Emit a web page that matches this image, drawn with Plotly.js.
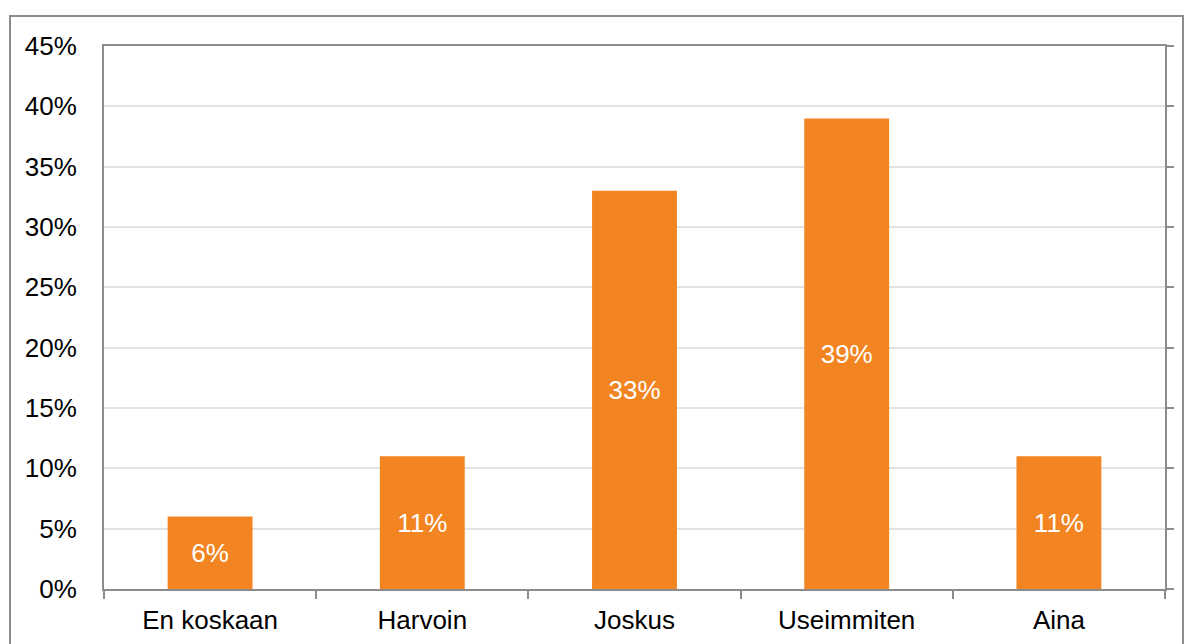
<!DOCTYPE html>
<html>
<head>
<meta charset="utf-8">
<script src="https://cdn.plot.ly/plotly-3.0.1.min.js"></script>
<style>
html,body{margin:0;padding:0;background:#fff;}
#chart{width:1184px;height:644px;}
</style>
</head>
<body>
<div id="chart"></div>
<script>
const categories = ["En koskaan", "Harvoin", "Joskus", "Useimmiten", "Aina"];
const values = [6, 11, 33, 39, 11];
const yTicks = [0, 5, 10, 15, 20, 25, 30, 35, 40, 45];

const font = "Liberation Sans, Arial, sans-serif";
const axisColor = "#8c8c8c";

const bars = {
  type: "bar",
  x: categories,
  y: values,
  width: 0.4,
  marker: {color: "#F28522"},
  texttemplate: "%{y}%",
  textposition: "inside",
  insidetextanchor: "middle",
  textfont: {family: font, size: 26, color: "#ffffff"},
  hoverinfo: "skip",
  showlegend: false
};
const dummy = {
  type: "scatter", x: categories, y: values, yaxis: "y2",
  mode: "markers", marker: {opacity: 0}, hoverinfo: "skip", showlegend: false
};

const layout = {
  width: 1184, height: 644,
  margin: {l: 104, r: 19, t: 46, b: 55},
  paper_bgcolor: "#ffffff", plot_bgcolor: "#ffffff",
  font: {family: font, size: 26, color: "#000000"},
  bargap: 0.6,
  xaxis: {
    type: "category",
    showline: true, linecolor: axisColor, linewidth: 2, mirror: true,
    ticks: "outside", tickson: "boundaries", ticklen: 8, tickwidth: 2, tickcolor: axisColor,
    showgrid: false, zeroline: false,
    tickfont: {family: font, size: 26, color: "#000"},
    ticklabelstandoff: 7
  },
  yaxis: {
    range: [0, 45], tickvals: yTicks, ticktext: yTicks.map(v => v + "%"),
    showline: true, linecolor: axisColor, linewidth: 2,
    ticks: "", showgrid: true, gridcolor: "#e3e3e3", gridwidth: 2,
    zeroline: false,
    tickfont: {family: font, size: 26, color: "#000"},
    ticklabelstandoff: 20
  },
  yaxis2: {
    overlaying: "y", side: "right", range: [0, 45], tickvals: yTicks,
    showticklabels: false, ticks: "outside", ticklen: 7, tickwidth: 2, tickcolor: axisColor,
    showline: true, linecolor: axisColor, linewidth: 2, showgrid: false, zeroline: false
  },
  shapes: [{
    type: "rect", xref: "paper", yref: "paper",
    x0: (10 - 104) / 1061, x1: (1183 - 104) / 1061,
    y0: -0.3, y1: (589 - 16) / 543,
    line: {color: "#8c8c8c", width: 2}, fillcolor: "rgba(0,0,0,0)", layer: "below"
  }]
};

Plotly.newPlot("chart", [bars, dummy], layout, {displayModeBar: false, staticPlot: true});
</script>
</body>
</html>
